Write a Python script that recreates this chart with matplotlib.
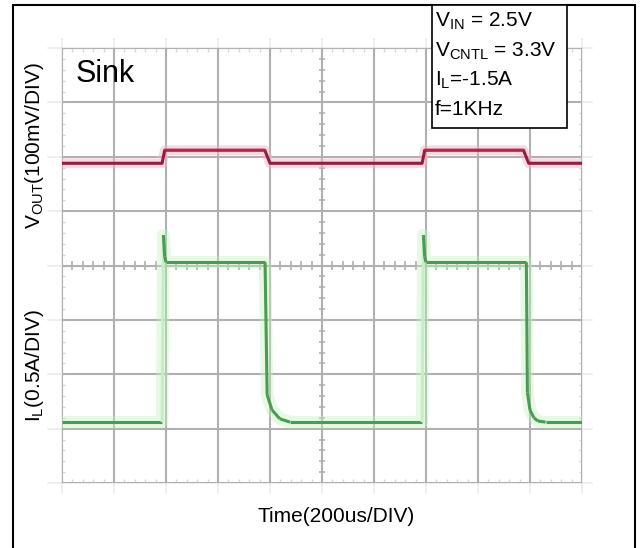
import matplotlib.pyplot as plt
import matplotlib.patches as patches
from matplotlib.collections import LineCollection
import numpy as np

plt.rcParams['font.family'] = ['Liberation Sans', 'DejaVu Sans']
plt.rcParams['mathtext.fontset'] = 'custom'
plt.rcParams['mathtext.rm'] = 'Liberation Sans'
plt.rcParams['mathtext.it'] = 'Liberation Sans'

# scope settings
time_per_div = 200      # us
vout_per_div = 100      # mV
il_per_div = 0.5        # A
n_xdiv, n_ydiv = 10, 8
vout_zero_div = 5.88    # where the VOUT baseline sits on the screen
il_zero_div = 4.06      # where 0 A sits on the screen

# VOUT deviation (mV) against time (us)
vout_t = [0, 385, 395, 780, 800, 1385, 1395, 1775, 1795, 2000]
vout_mv = [0, 0, 24, 24, 0, 0, 24, 24, 0, 0]

# inductor current (A) against time (us)
il_t = [0, 385, 390, 395, 400, 781, 789, 808, 838, 877,
        1385, 1390, 1395, 1400, 1786, 1790, 1800, 1815, 1830, 1860, 2000]
il_a = [-1.47, -1.47, 0.25, 0.05, 0, 0, -1.22, -1.36, -1.44, -1.47,
        -1.47, 0.25, 0.05, 0, 0, -1.2, -1.36, -1.43, -1.46, -1.47, -1.47]

W, H = 640, 548
fig = plt.figure(figsize=(W / 100, H / 100), dpi=100)

# outer frame
fig.add_artist(patches.Rectangle((13 / W, -0.01), 622 / W, (H - 5) / H + 0.01,
                                 transform=fig.transFigure, fill=False,
                                 edgecolor='black', linewidth=1.5))

gx0, gx1, gy0, gy1 = 62, 582, 48, 483
ax = fig.add_axes([gx0 / W, 1 - gy1 / H, (gx1 - gx0) / W, (gy1 - gy0) / H])
ax.set_xlim(0, n_xdiv * time_per_div)
ax.set_ylim(0, n_ydiv)
ax.axis('off')

grid_c = '#b0b0b0'
# faint blurred extension of the graticule
for k in range(n_xdiv + 1):
    ax.plot([k * time_per_div] * 2, [-0.17, n_ydiv + 0.17], color=grid_c,
            lw=1.2, alpha=0.25, clip_on=False, zorder=1)
for k in range(n_ydiv + 1):
    ax.plot([-0.27 * time_per_div, (n_xdiv + 0.2) * time_per_div], [k, k],
            color=grid_c, lw=1.2, alpha=0.25, clip_on=False, zorder=1)
# graticule
for k in range(n_xdiv + 1):
    ax.axvline(k * time_per_div, color=grid_c, lw=1.5, zorder=2)
for k in range(n_ydiv + 1):
    ax.axhline(k, color=grid_c, lw=1.5, zorder=2)

# minor ticks on the centre lines and the edges
xm = np.arange(0, n_xdiv * 5 + 1) * time_per_div / 5
ym = np.arange(0, n_ydiv * 5 + 1) / 5
xc, yc = n_xdiv / 2 * time_per_div, n_ydiv / 2
ax.vlines(xm, yc - 0.08, yc + 0.08, color=grid_c, lw=1.2, zorder=2)
ax.hlines(ym, xc - 0.13 * time_per_div / 2, xc + 0.13 * time_per_div / 2,
          color=grid_c, lw=1.2, zorder=2)
ax.vlines(xm, n_ydiv - 0.08, n_ydiv, color=grid_c, lw=1.0, alpha=0.5, zorder=2)
ax.vlines(xm, 0, 0.08, color=grid_c, lw=1.0, alpha=0.5, zorder=2)
ax.hlines(ym, 0, 0.12 * time_per_div / 2, color=grid_c, lw=1.0, alpha=0.5, zorder=2)
ax.hlines(ym, n_xdiv * time_per_div - 0.12 * time_per_div / 2,
          n_xdiv * time_per_div, color=grid_c, lw=1.0, alpha=0.5, zorder=2)

# channel scales
ax_v = ax.twinx()
ax_v.set_ylim(-vout_zero_div * vout_per_div, (n_ydiv - vout_zero_div) * vout_per_div)
ax_v.axis('off')
ax_i = ax.twinx()
ax_i.set_ylim(-il_zero_div * il_per_div, (n_ydiv - il_zero_div) * il_per_div)
ax_i.axis('off')

# VOUT trace, the raised part glows a brighter red
ax_v.plot(vout_t, vout_mv, color='#f7b3c5', lw=7, alpha=0.5,
          solid_capstyle='butt', zorder=3)
ax_v.plot(vout_t, vout_mv, color='#8e1f3d', lw=2.2, zorder=4)
vout_hi = np.where(np.array(vout_mv) > 12, vout_mv, np.nan)
ax_v.plot(vout_t, vout_hi, color='#cf2552', lw=1.6, alpha=0.7, zorder=5)

# IL trace: fast rising edges show up faint on the scope
ax_i.plot(il_t, il_a, color='#bff2ba', lw=9, alpha=0.4,
          solid_capstyle='butt', zorder=3)
pts = np.column_stack([il_t, il_a])
segs = np.stack([pts[:-1], pts[1:]], axis=1)
cols = []
for (t0, a0), (t1, a1) in segs:
    rising = (a1 - a0) > 0.5
    cols.append('#c4efc4' if rising else '#4d9a55')
ax_i.add_collection(LineCollection(segs, colors=cols, linewidths=2.2, zorder=4))

# labels
fig.text(76 / W, 1 - 82 / H, 'Sink', fontsize=22, ha='left', va='baseline')
fig.text(35 / W, 1 - 146 / H, r'V$_{\mathrm{OUT}}$(100mV/DIV)', fontsize=15,
         rotation=90, ha='center', va='center')
fig.text(35 / W, 1 - 366 / H, r'I$_{\mathrm{L}}$(0.5A/DIV)', fontsize=15,
         rotation=90, ha='center', va='center')
fig.text(336 / W, 1 - 517 / H, 'Time(200us/DIV)', fontsize=15,
         ha='center', va='center')

# condition box
fig.add_artist(patches.Rectangle((432 / W, 1 - 128 / H), 135 / W, 123 / H,
                                 transform=fig.transFigure, facecolor='white',
                                 edgecolor='black', linewidth=1.2, zorder=10))
box_lines = [r'V$_{\mathrm{IN}}$ = 2.5V', r'V$_{\mathrm{CNTL}}$ = 3.3V',
             r'I$_{\mathrm{L}}$=-1.5A', 'f=1KHz']
for i, s in enumerate(box_lines):
    fig.text(435 / W, 1 - (27 + 29.3 * i) / H, s, fontsize=15,
             ha='left', va='baseline', zorder=11)

fig.savefig('out.png', dpi=100, facecolor='white')
